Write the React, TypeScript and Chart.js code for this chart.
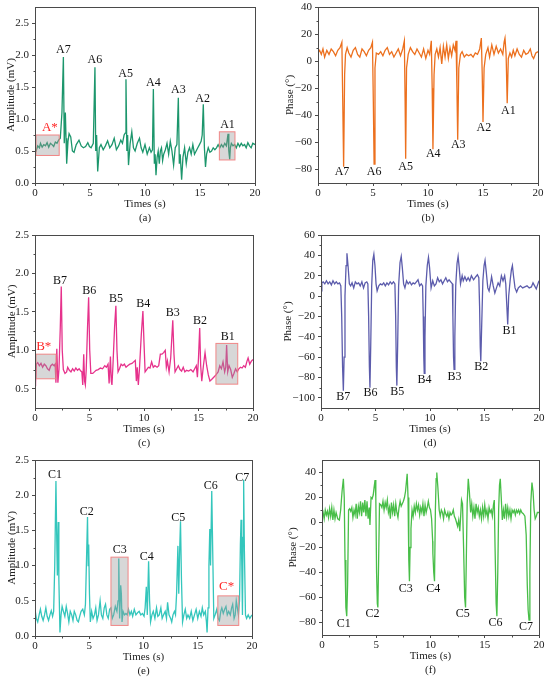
import React, { useEffect, useRef } from "react";
import { Chart, registerables } from "chart.js";

Chart.register(...registerables);

const FONT = "'Liberation Serif', 'Times New Roman', Times, serif";
Chart.defaults.font.family = FONT;
Chart.defaults.color = "#222";

// ---------- tick labels ----------
const xTicks = [0, 5, 10, 15, 20];
const ampTicksA = [0, 0.5, 1.0, 1.5, 2.0, 2.5];
const phaseTicksA = [-80, -60, -40, -20, 0, 20, 40];
const ampTicksB = [0.5, 1.0, 1.5, 2.0, 2.5];
const phaseTicksB = [-100, -80, -60, -40, -20, 0, 20, 40, 60];
const ampTicksC = [0, 0.5, 1.0, 1.5, 2.0, 2.5];
const phaseTicksC = [-80, -60, -40, -20, 0, 20, 40];

// ---------- series: [time (s), value] ----------
const ampA: [number, number][] = [
  [0, 0.52], [0.1, 0.5], [0.25, 0.58], [0.4, 0.55], [0.5, 0.62], [0.65, 0.56], [0.8, 0.6], [0.95, 0.58],
  [1.1, 0.63], [1.25, 0.56], [1.4, 0.62], [1.55, 0.6], [1.7, 0.57], [1.85, 0.64], [2.0, 0.62], [2.15, 0.67],
  [2.3, 0.7], [2.45, 1.1], [2.58, 1.97], [2.66, 0.62], [2.76, 1.1], [2.82, 0.7], [2.88, 0.3], [3.0, 0.65],
  [3.1, 0.77], [3.25, 0.72], [3.4, 0.5], [3.55, 0.48], [3.75, 0.6], [4.0, 0.67], [4.2, 0.58], [4.4, 0.55],
  [4.6, 0.57], [4.8, 0.63], [4.95, 0.57], [5.1, 0.55], [5.3, 0.62], [5.45, 1.81], [5.52, 0.5], [5.6, 0.75],
  [5.7, 0.18], [5.85, 0.55], [6.0, 0.6], [6.2, 0.52], [6.4, 0.58], [6.6, 0.66], [6.8, 0.55], [7.0, 0.6],
  [7.2, 0.7], [7.4, 0.52], [7.6, 0.58], [7.8, 0.67], [7.95, 0.62], [8.1, 0.75], [8.2, 0.78], [8.27, 1.62],
  [8.35, 0.5], [8.42, 0.75], [8.5, 0.28], [8.65, 0.62], [8.8, 0.8], [8.95, 0.55], [9.1, 0.5], [9.3, 0.62],
  [9.5, 0.7], [9.65, 0.55], [9.8, 0.48], [10.0, 0.6], [10.2, 0.45], [10.4, 0.55], [10.55, 0.48], [10.68, 0.52],
  [10.76, 1.47], [10.85, 0.3], [10.92, 0.45], [11.0, 0.12], [11.1, 0.4], [11.2, 0.5], [11.3, 0.3], [11.4, 0.5],
  [11.5, 0.55], [11.6, 0.35], [11.7, 0.45], [11.85, 0.52], [12.0, 0.62], [12.15, 0.45], [12.3, 0.65], [12.45, 0.5],
  [12.6, 0.28], [12.75, 0.55], [12.9, 0.6], [13.03, 1.33], [13.12, 0.3], [13.2, 0.45], [13.33, 0.05], [13.45, 0.4],
  [13.6, 0.55], [13.75, 0.3], [13.9, 0.48], [14.05, 0.55], [14.2, 0.45], [14.35, 0.6], [14.5, 0.45], [14.65, 0.5],
  [14.8, 0.55], [14.95, 0.6], [15.1, 0.65], [15.2, 0.75], [15.3, 1.23], [15.4, 0.55], [15.5, 0.25], [15.6, 0.45],
  [15.75, 0.55], [15.9, 0.48], [16.05, 0.5], [16.2, 0.55], [16.35, 0.52], [16.5, 0.55], [16.65, 0.6], [16.8, 0.55],
  [16.95, 0.6], [17.1, 0.56], [17.25, 0.62], [17.4, 0.58], [17.55, 0.77], [17.62, 0.5], [17.7, 0.37], [17.76, 0.55],
  [17.85, 0.62], [18.0, 0.58], [18.15, 0.6], [18.3, 0.55], [18.45, 0.62], [18.6, 0.57], [18.75, 0.62], [18.9, 0.58],
  [19.05, 0.6], [19.2, 0.55], [19.35, 0.63], [19.5, 0.58], [19.65, 0.55], [19.8, 0.62], [20.0, 0.6],
];

const phaseA: [number, number][] = [
  [0, 6], [0.15, 8], [0.3, 5], [0.45, 9], [0.6, 3], [0.8, 8], [1.0, 5], [1.2, 9], [1.4, 7], [1.6, 4], [1.8, 8],
  [2.0, 10], [2.17, 14], [2.25, -30], [2.33, -78], [2.42, -10], [2.5, 5], [2.65, 10], [2.8, 6], [3.0, 3], [3.2, 8],
  [3.4, 10], [3.6, 5], [3.8, 3], [4.0, 9], [4.2, 7], [4.4, 4], [4.6, 8], [4.8, 10], [4.95, 14], [5.03, -30],
  [5.1, -76], [5.18, -5], [5.3, 6], [5.5, 5], [5.7, 7], [5.9, 4], [6.1, 8], [6.3, 10], [6.5, 5], [6.7, 7],
  [6.9, 3], [7.1, 6], [7.3, 9], [7.5, 4], [7.7, 9], [7.85, 15], [7.92, -30], [7.97, -72], [8.05, -5], [8.2, 5],
  [8.4, 10], [8.6, 7], [8.8, 5], [9.0, 9], [9.2, 6], [9.4, 3], [9.6, 9], [9.8, 2], [10.0, 8], [10.15, 5],
  [10.3, 15], [10.38, -20], [10.45, -65], [10.55, -10], [10.65, 5], [10.8, 9], [10.95, 3], [11.1, 10], [11.25, -2],
  [11.4, 11], [11.55, 3], [11.7, 12], [11.85, 2], [12.0, 10], [12.15, 4], [12.3, 12], [12.45, 8], [12.55, 15],
  [12.63, -20], [12.7, -58], [12.8, -5], [12.95, 5], [13.1, 7], [13.3, 3], [13.5, 5], [13.7, 4], [13.9, 5],
  [14.1, 3], [14.3, 6], [14.5, 5], [14.7, 9], [14.85, 17], [14.93, -10], [15.0, -45], [15.1, -5], [15.25, 5],
  [15.45, 10], [15.6, 3], [15.8, 12], [16.0, 5], [16.2, 11], [16.4, 6], [16.6, 9], [16.8, 5], [16.92, 14],
  [17.0, 17], [17.1, 5], [17.2, -31], [17.3, 2], [17.45, 6], [17.6, 3], [17.75, 8], [17.9, 4], [18.1, 9],
  [18.3, 5], [18.5, 3], [18.7, 8], [18.9, 5], [19.1, 6], [19.3, 9], [19.45, 4], [19.6, 2], [19.8, 6], [20.0, 7],
];

const ampB: [number, number][] = [
  [0, 0.6], [0.05, 0.58], [0.12, 0.82], [0.25, 0.84], [0.4, 0.8], [0.55, 0.83], [0.7, 0.78], [0.85, 0.82],
  [1.0, 0.8], [1.15, 0.76], [1.3, 0.74], [1.45, 0.8], [1.6, 0.82], [1.75, 0.8], [1.85, 0.82], [1.92, 0.58],
  [2.0, 1.02], [2.1, 0.58], [2.2, 0.75], [2.32, 1.3], [2.41, 1.83], [2.5, 1.0], [2.6, 0.75], [2.75, 0.7],
  [2.9, 0.72], [3.0, 0.78], [3.15, 0.74], [3.3, 0.72], [3.45, 0.76], [3.6, 0.73], [3.75, 0.77], [3.9, 0.74],
  [4.05, 0.76], [4.2, 0.73], [4.3, 0.72], [4.38, 0.55], [4.47, 0.95], [4.55, 0.6], [4.62, 0.55], [4.7, 0.75],
  [4.82, 1.3], [4.92, 1.69], [5.02, 1.0], [5.12, 0.7], [5.3, 0.7], [5.45, 0.72], [5.6, 0.74], [5.8, 0.75],
  [6.0, 0.77], [6.2, 0.76], [6.4, 0.8], [6.55, 0.78], [6.7, 0.82], [6.8, 0.57], [6.92, 0.92], [7.0, 0.6],
  [7.06, 0.55], [7.15, 0.8], [7.3, 1.3], [7.42, 1.58], [7.52, 1.0], [7.62, 0.72], [7.75, 0.76], [7.9, 0.82],
  [8.05, 0.8], [8.2, 0.82], [8.35, 0.78], [8.5, 0.8], [8.7, 0.82], [8.9, 0.83], [9.05, 0.85], [9.2, 0.87],
  [9.3, 0.6], [9.38, 0.78], [9.48, 0.55], [9.58, 0.75], [9.75, 1.2], [9.9, 1.51], [10.0, 1.1], [10.1, 0.72],
  [10.25, 0.75], [10.4, 0.78], [10.55, 0.77], [10.7, 0.85], [10.85, 0.78], [11.0, 0.8], [11.2, 0.78], [11.35, 0.8],
  [11.5, 0.95], [11.65, 0.95], [11.8, 0.97], [11.95, 1.0], [12.05, 0.78], [12.15, 0.86], [12.3, 0.72], [12.45, 0.9],
  [12.64, 1.39], [12.75, 0.95], [12.85, 0.72], [13.0, 0.76], [13.15, 0.8], [13.3, 0.75], [13.45, 0.73], [13.6, 0.78],
  [13.75, 0.72], [13.9, 0.74], [14.1, 0.73], [14.3, 0.75], [14.5, 0.72], [14.65, 0.76], [14.8, 0.8], [14.9, 0.65],
  [15.0, 0.9], [15.11, 1.29], [15.2, 0.8], [15.3, 0.6], [15.45, 0.8], [15.6, 0.97], [15.75, 0.8], [15.9, 0.68],
  [16.05, 0.6], [16.2, 0.62], [16.4, 0.65], [16.6, 0.68], [16.8, 0.72], [16.95, 0.8], [17.1, 0.76], [17.25, 0.85],
  [17.4, 0.72], [17.5, 0.78], [17.58, 1.07], [17.68, 0.72], [17.8, 0.8], [17.95, 0.75], [18.1, 0.65], [18.25, 0.7],
  [18.4, 0.76], [18.55, 0.72], [18.7, 0.76], [18.85, 0.78], [19.0, 0.77], [19.15, 0.8], [19.3, 0.78], [19.45, 0.86],
  [19.55, 0.9], [19.7, 0.82], [19.85, 0.86], [20.0, 0.88],
];

const phaseB: [number, number][] = [
  [0, 5], [0.08, 13], [0.2, 14], [0.35, 12], [0.5, 15], [0.65, 12], [0.8, 14], [0.95, 11], [1.1, 15], [1.25, 12],
  [1.4, 14], [1.55, 12], [1.7, 13], [1.82, 10], [1.9, -20], [1.98, -70], [2.05, -93], [2.12, -60], [2.2, 0],
  [2.3, 30], [2.38, 42], [2.48, 30], [2.6, 12], [2.72, 10], [2.85, 13], [3.0, 8], [3.15, 14], [3.3, 12], [3.45, 13],
  [3.6, 10], [3.75, 14], [3.9, 8], [4.05, 13], [4.2, 14], [4.3, 12], [4.37, -20], [4.44, -70], [4.49, -90],
  [4.56, -50], [4.65, 10], [4.75, 35], [4.85, 41], [4.95, 30], [5.05, 12], [5.15, 5], [5.3, 10], [5.45, 12],
  [5.6, 11], [5.75, 13], [5.9, 10], [6.05, 13], [6.2, 11], [6.35, 14], [6.5, 12], [6.65, 14], [6.78, 12],
  [6.85, -20], [6.91, -70], [6.96, -88], [7.03, -50], [7.12, 10], [7.25, 33], [7.36, 39], [7.46, 28], [7.58, 12],
  [7.7, 8], [7.85, 15], [8.0, 12], [8.15, 14], [8.3, 11], [8.45, 13], [8.6, 12], [8.75, 14], [8.9, 16], [9.05, 10],
  [9.2, 12], [9.32, 10], [9.38, -20], [9.43, -60], [9.47, -76], [9.54, -40], [9.62, 10], [9.75, 30], [9.86, 38],
  [9.96, 28], [10.1, 8], [10.25, 15], [10.4, 10], [10.55, 12], [10.7, 18], [10.85, 14], [11.0, 16], [11.15, 12],
  [11.3, 15], [11.45, 18], [11.6, 14], [11.75, 16], [11.9, 14], [12.05, 12], [12.1, -20], [12.16, -60], [12.21, -72],
  [12.28, -40], [12.36, 10], [12.48, 32], [12.58, 39], [12.68, 28], [12.8, 12], [12.95, 20], [13.05, 15], [13.2, 19],
  [13.35, 15], [13.5, 18], [13.65, 15], [13.8, 20], [14.0, 16], [14.2, 19], [14.35, 21], [14.48, 18], [14.55, -10],
  [14.61, -50], [14.66, -64], [14.74, -30], [14.85, 15], [14.96, 30], [15.05, 35], [15.15, 25], [15.3, 8],
  [15.42, 5], [15.55, 12], [15.65, 19], [15.8, 10], [15.95, 3], [16.1, 8], [16.25, 13], [16.4, 10], [16.55, 20],
  [16.7, 15], [16.85, 20], [16.95, 12], [17.05, -10], [17.13, -28], [17.22, 0], [17.35, 15], [17.47, 26],
  [17.56, 30], [17.66, 20], [17.8, 8], [17.95, 4], [18.1, 8], [18.3, 10], [18.5, 8], [18.7, 9], [18.9, 10],
  [19.1, 8], [19.3, 9], [19.45, 13], [19.6, 10], [19.75, 7], [19.9, 12], [20.0, 15],
];

const ampC: [number, number][] = [
  [0, 0.38], [0.12, 0.25], [0.25, 0.2], [0.38, 0.3], [0.5, 0.38], [0.62, 0.28], [0.75, 0.22], [0.88, 0.3],
  [1.0, 0.4], [1.12, 0.28], [1.25, 0.22], [1.38, 0.3], [1.5, 0.36], [1.62, 0.28], [1.72, 0.35], [1.82, 1.0],
  [1.93, 2.2], [2.02, 1.2], [2.06, 0.86], [2.14, 1.62], [2.2, 0.8], [2.3, 0.05], [2.4, 0.3], [2.5, 0.42],
  [2.62, 0.35], [2.75, 0.28], [2.88, 0.42], [3.0, 0.32], [3.12, 0.2], [3.25, 0.35], [3.38, 0.3], [3.5, 0.22],
  [3.62, 0.35], [3.75, 0.3], [3.88, 0.22], [4.0, 0.2], [4.12, 0.28], [4.25, 0.35], [4.4, 0.38], [4.55, 0.3],
  [4.65, 0.45], [4.75, 1.1], [4.84, 1.69], [4.9, 1.0], [4.95, 1.3], [5.02, 0.6], [5.1, 0.2], [5.22, 0.35],
  [5.35, 0.25], [5.48, 0.3], [5.6, 0.4], [5.72, 0.22], [5.85, 0.3], [6.0, 0.5], [6.12, 0.3], [6.25, 0.25],
  [6.38, 0.4], [6.5, 0.45], [6.62, 0.3], [6.75, 0.25], [6.88, 0.38], [7.0, 0.4], [7.12, 0.25], [7.25, 0.3],
  [7.4, 0.42], [7.55, 0.35], [7.65, 0.5], [7.72, 1.1], [7.8, 0.25], [7.9, 0.72], [7.96, 0.6], [8.02, 0.2],
  [8.12, 0.35], [8.25, 0.3], [8.38, 0.32], [8.5, 0.3], [8.62, 0.38], [8.75, 0.3], [8.88, 0.35], [9.0, 0.28],
  [9.15, 0.38], [9.3, 0.3], [9.45, 0.33], [9.6, 0.35], [9.75, 0.3], [9.9, 0.32], [10.05, 0.28], [10.15, 0.4],
  [10.26, 0.7], [10.35, 0.3], [10.47, 1.06], [10.56, 0.5], [10.65, 0.2], [10.78, 0.3], [10.9, 0.35], [11.05, 0.25],
  [11.2, 0.4], [11.32, 0.28], [11.45, 0.3], [11.6, 0.4], [11.72, 0.25], [11.85, 0.3], [12.0, 0.35], [12.12, 0.25],
  [12.22, 0.48], [12.35, 0.3], [12.5, 0.25], [12.6, 0.2], [12.72, 0.3], [12.85, 0.35], [12.95, 0.3], [13.05, 0.6],
  [13.17, 1.28], [13.25, 0.6], [13.33, 1.2], [13.41, 1.63], [13.5, 0.8], [13.6, 0.2], [13.72, 0.3], [13.85, 0.38],
  [13.98, 0.25], [14.1, 0.3], [14.25, 0.25], [14.4, 0.35], [14.55, 0.22], [14.7, 0.3], [14.85, 0.38], [15.0, 0.25],
  [15.15, 0.35], [15.3, 0.28], [15.42, 0.4], [15.55, 0.3], [15.7, 0.35], [15.8, 0.2], [15.86, 0.05], [15.95, 0.4],
  [16.03, 1.0], [16.11, 1.52], [16.18, 1.0], [16.29, 2.06], [16.38, 1.2], [16.48, 0.25], [16.6, 0.3], [16.75, 0.38],
  [16.88, 0.25], [17.0, 0.22], [17.12, 0.35], [17.22, 0.4], [17.35, 0.32], [17.48, 0.38], [17.6, 0.42], [17.72, 0.3],
  [17.85, 0.35], [18.0, 0.3], [18.12, 0.4], [18.22, 0.45], [18.35, 0.25], [18.45, 0.3], [18.55, 0.5], [18.65, 0.4],
  [18.75, 0.3], [18.85, 0.5], [18.93, 1.3], [18.99, 1.65], [19.06, 1.0], [19.12, 0.3], [19.18, 1.4], [19.23, 2.22],
  [19.3, 1.2], [19.4, 0.3], [19.5, 0.25], [19.65, 0.3], [19.8, 0.25], [20.0, 0.3],
];

const phaseC: [number, number][] = [
  [0, 5], [0.1, 8], [0.2, 3], [0.3, 10], [0.4, 6], [0.5, 9], [0.6, 4], [0.7, 11], [0.8, 5], [0.9, 12], [1.0, 2],
  [1.1, 10], [1.2, 3], [1.3, 8], [1.45, 3], [1.6, 2], [1.72, 10], [1.85, 25], [1.97, 35], [2.05, 20], [2.12, -30],
  [2.2, -68], [2.28, -75], [2.36, -50], [2.45, 10], [2.55, 11], [2.65, 9], [2.75, 12], [2.85, 4], [2.95, 10],
  [3.05, 6], [3.15, 15], [3.25, 3], [3.35, 13], [3.45, 8], [3.55, 17], [3.65, 5], [3.75, 16], [3.85, 8], [3.95, 18],
  [4.05, 5], [4.15, 17], [4.25, 3], [4.35, 12], [4.42, -2], [4.52, 20], [4.62, 19], [4.72, 22], [4.8, 28],
  [4.89, 34], [4.96, 20], [5.03, -40], [5.1, -65], [5.15, -68], [5.22, -30], [5.3, 15], [5.42, 14], [5.52, 12],
  [5.62, 17], [5.72, 10], [5.82, 16], [5.92, 12], [6.02, 18], [6.12, 8], [6.22, 12], [6.3, 3], [6.4, 16], [6.5, 8],
  [6.6, 14], [6.7, 5], [6.8, 15], [6.9, 8], [7.0, 4], [7.1, 12], [7.2, 17], [7.3, 13], [7.4, 15], [7.5, 17],
  [7.6, 20], [7.7, 25], [7.85, 39], [7.93, 20], [8.0, -30], [8.06, -47], [8.12, -20], [8.2, -5], [8.3, 10],
  [8.4, 5], [8.5, 13], [8.6, 8], [8.7, 15], [8.8, 10], [8.9, 14], [9.0, 6], [9.1, 12], [9.2, 8], [9.3, 15],
  [9.4, 5], [9.5, 14], [9.6, 8], [9.7, 12], [9.8, 17], [9.9, 12], [10.0, 10], [10.1, 3], [10.2, -15],
  [10.22, -25], [10.3, -40], [10.37, -47], [10.45, 10], [10.52, 35], [10.58, 40], [10.68, 28], [10.8, 10],
  [10.9, 5], [11.0, 10], [11.1, 8], [11.2, 3], [11.3, 10], [11.4, 7], [11.5, 5], [11.6, 8], [11.7, 3], [11.8, 8],
  [11.9, 6], [12.0, 7], [12.1, 10], [12.2, 5], [12.3, 3], [12.4, 0], [12.5, -3], [12.6, 2], [12.7, -7], [12.78, 5],
  [12.86, 18], [12.95, 15], [13.05, -20], [13.15, -60], [13.23, -68], [13.3, -30], [13.38, 15], [13.48, 35],
  [13.58, 25], [13.7, 8], [13.8, 15], [13.9, 5], [14.0, 12], [14.1, 3], [14.2, 15], [14.3, 8], [14.4, 12],
  [14.5, 5], [14.6, 10], [14.7, 3], [14.8, 12], [14.9, 5], [15.0, 14], [15.1, 6], [15.2, 10], [15.3, 3],
  [15.4, 12], [15.5, 8], [15.6, 10], [15.7, 5], [15.8, 14], [15.88, 18], [15.95, -20], [16.05, -65], [16.12, -75],
  [16.2, -40], [16.28, 10], [16.36, 30], [16.43, 35], [16.52, 20], [16.62, 2], [16.72, 10], [16.82, 3],
  [16.92, 15], [17.02, 5], [17.12, 12], [17.22, 5], [17.32, 10], [17.42, 3], [17.52, 10], [17.62, 8], [17.72, 10],
  [17.82, 6], [17.92, 10], [18.02, 8], [18.12, 10], [18.22, 7], [18.32, 10], [18.42, 8], [18.55, 7], [18.7, 5],
  [18.82, -10], [18.92, -50], [19.0, -70], [19.08, -78], [19.16, -40], [19.24, 15], [19.35, 32], [19.45, 25],
  [19.55, 10], [19.65, 3], [19.75, 5], [19.85, 8], [20.0, 8],
];

// ---------- annotations: [text, time, value] and boxes [t0, t1, v0, v1] ----------
const labelsAmpA: [string, number, number][] = [
  ["A7", 2.58, 2.08], ["A6", 5.45, 1.93], ["A5", 8.24, 1.71], ["A4", 10.76, 1.56],
  ["A3", 13.03, 1.46], ["A2", 15.24, 1.31], ["A1", 17.5, 0.91],
];
const labelsPhaseA: [string, number, number][] = [
  ["A7", 2.18, -82], ["A6", 5.1, -81.5], ["A5", 7.97, -78], ["A4", 10.48, -68.5],
  ["A3", 12.75, -62], ["A2", 15.08, -49], ["A1", 17.3, -37],
];
const labelsAmpB: [string, number, number][] = [
  ["B7", 2.29, 1.9], ["B6", 4.98, 1.77], ["B5", 7.43, 1.67], ["B4", 9.94, 1.6],
  ["B3", 12.63, 1.49], ["B2", 15.14, 1.39], ["B1", 17.68, 1.17],
];
const labelsPhaseB: [string, number, number][] = [
  ["B7", 2.05, -99], ["B6", 4.53, -95], ["B5", 7.0, -93.7], ["B4", 9.5, -82.2],
  ["B3", 12.24, -79.5], ["B2", 14.7, -69.7], ["B1", 17.3, -34],
];
const labelsAmpC: [string, number, number][] = [
  ["C1", 1.84, 2.29], ["C2", 4.76, 1.76], ["C3", 7.8, 1.23], ["C4", 10.3, 1.12],
  ["C5", 13.2, 1.68], ["C6", 16.2, 2.13], ["C7", 19.1, 2.25],
];
const labelsPhaseC: [string, number, number][] = [
  ["C1", 2.0, -81], ["C2", 4.65, -73], ["C3", 7.73, -53.3], ["C4", 10.25, -53.3],
  ["C5", 12.97, -73.3], ["C6", 16.0, -80], ["C7", 18.8, -83.7],
];
const boxesA: [number, number, number, number][] = [[0.09, 2.2, 0.43, 0.75], [16.76, 18.18, 0.36, 0.8]];
const boxesB: [number, number, number, number][] = [[0.09, 1.93, 0.63, 0.95], [16.6, 18.6, 0.56, 1.09]];
const boxesC: [number, number, number, number][] = [[7.0, 8.58, 0.15, 1.12], [16.85, 18.78, 0.15, 0.57]];
const starA: [string, number, number] = ["A*", 1.35, 0.86];
const starB: [string, number, number] = ["B*", 0.8, 1.05];
const starC: [string, number, number] = ["C*", 17.66, 0.7];

type Area = { l: number; r: number; t: number; b: number };
type Panel = {
  key: string;
  cellLeft: number;
  area: Area;
  color: string;
  data: [number, number][];
  yMin: number;
  yMax: number;
  yTicks: number[];
  yTitle: string;
  yTitleX: number;
  amp: boolean;
  caption: string;
  labels: [string, number, number][];
  boxes: [number, number, number, number][];
  star: [string, number, number] | null;
};

const panels: Panel[] = [
  { key: "a", cellLeft: 0, area: { l: 35, r: 255, t: 7, b: 183 }, color: "rgb(28,150,108)", data: ampA,
    yMin: 0, yMax: 2.75, yTicks: ampTicksA, yTitle: "Amplitude (mV)", yTitleX: 10.7, amp: true, caption: "(a)",
    labels: labelsAmpA, boxes: boxesA, star: starA },
  { key: "b", cellLeft: 275, area: { l: 318, r: 538, t: 7, b: 183 }, color: "rgb(236,112,30)", data: phaseA,
    yMin: -90, yMax: 40, yTicks: phaseTicksA, yTitle: "Phase (°)", yTitleX: 14.7, amp: false, caption: "(b)",
    labels: labelsPhaseA, boxes: [], star: null },
  { key: "c", cellLeft: 0, area: { l: 35, r: 253, t: 235, b: 408 }, color: "rgb(230,50,140)", data: ampB,
    yMin: 0.25, yMax: 2.5, yTicks: ampTicksB, yTitle: "Amplitude (mV)", yTitleX: 11.7, amp: true, caption: "(c)",
    labels: labelsAmpB, boxes: boxesB, star: starB },
  { key: "d", cellLeft: 275, area: { l: 321, r: 539, t: 235, b: 408 }, color: "rgb(92,92,172)", data: phaseB,
    yMin: -110, yMax: 60, yTicks: phaseTicksB, yTitle: "Phase (°)", yTitleX: 12.7, amp: false, caption: "(d)",
    labels: labelsPhaseB, boxes: [], star: null },
  { key: "e", cellLeft: 0, area: { l: 35, r: 252, t: 460, b: 636 }, color: "rgb(52,198,188)", data: ampC,
    yMin: 0, yMax: 2.5, yTicks: ampTicksC, yTitle: "Amplitude (mV)", yTitleX: 11.7, amp: true, caption: "(e)",
    labels: labelsAmpC, boxes: boxesC, star: starC },
  { key: "f", cellLeft: 275, area: { l: 322, r: 539, t: 460, b: 635 }, color: "rgb(72,190,72)", data: phaseC,
    yMin: -90, yMax: 50, yTicks: phaseTicksC, yTitle: "Phase (°)", yTitleX: 18.3, amp: false, caption: "(f)",
    labels: labelsPhaseC, boxes: [], star: null },
];

const AXIS = "#4a4a4a";
const TOP_PAD = 12;
const X_AXIS_H = 45;

function minorValues(majors: number[], min: number, max: number): number[] {
  const step = majors[1] - majors[0];
  const out: number[] = [];
  const cands = [majors[0] - step / 2, ...majors.map((v) => v + step / 2)];
  for (const v of cands) if (v > min + 1e-9 && v < max - 1e-9) out.push(v);
  return out;
}

function decorPlugin(p: Panel) {
  return {
    id: "decor_" + p.key,
    afterDatasetsDraw(chart: any) {
      const { ctx, scales } = chart;
      const x = scales.x, y = scales.y;
      ctx.save();
      for (const [t0, t1, v0, v1] of p.boxes) {
        const px0 = x.getPixelForValue(t0), px1 = x.getPixelForValue(t1);
        const py0 = y.getPixelForValue(v0), py1 = y.getPixelForValue(v1);
        ctx.fillStyle = "rgba(150,150,150,0.38)";
        ctx.fillRect(px0, py1, px1 - px0, py0 - py1);
        ctx.strokeStyle = "rgba(240,130,130,0.95)";
        ctx.lineWidth = 1;
        ctx.strokeRect(px0, py1, px1 - px0, py0 - py1);
      }
      ctx.font = `12px ${FONT}`;
      ctx.textAlign = "center";
      ctx.textBaseline = "middle";
      ctx.fillStyle = "#111";
      for (const [txt, t, v] of p.labels) {
        ctx.fillText(txt, x.getPixelForValue(t), y.getPixelForValue(v));
      }
      if (p.star) {
        ctx.font = `13px ${FONT}`;
        ctx.fillStyle = "#ff2626";
        ctx.fillText(p.star[0], x.getPixelForValue(p.star[1]), y.getPixelForValue(p.star[2]));
      }
      ctx.restore();
    },
    afterDraw(chart: any) {
      const { ctx, chartArea: a, scales } = chart;
      const x = scales.x, y = scales.y;
      ctx.save();
      ctx.strokeStyle = AXIS;
      ctx.lineWidth = 1;
      const L = Math.round(a.left) + 0.5, R = Math.round(a.right) + 0.5;
      const T = Math.round(a.top) + 0.5, B = Math.round(a.bottom) + 0.5;
      ctx.strokeRect(L, T, R - L, B - T);
      ctx.beginPath();
      for (const v of minorValues(xTicks, 0, 20)) {
        const px = Math.round(x.getPixelForValue(v)) + 0.5;
        ctx.moveTo(px, B);
        ctx.lineTo(px, B + 2);
      }
      for (const v of minorValues(p.yTicks, p.yMin, p.yMax)) {
        const py = Math.round(y.getPixelForValue(v)) + 0.5;
        ctx.moveTo(L, py);
        ctx.lineTo(L - 2, py);
      }
      ctx.stroke();
      ctx.font = `11px ${FONT}`;
      ctx.fillStyle = "#222";
      ctx.textAlign = "center";
      ctx.textBaseline = "middle";
      ctx.fillText(p.caption, (a.left + a.right) / 2, a.bottom + 35.5);
      ctx.restore();
    },
  };
}

function PanelChart({ p }: { p: Panel }) {
  const ref = useRef<HTMLCanvasElement>(null);
  const left = p.cellLeft;
  const top = p.area.t - TOP_PAD;
  const W = Math.ceil(p.area.r - left + 12);
  const H = Math.ceil(p.area.b - p.area.t + TOP_PAD + X_AXIS_H);

  useEffect(() => {
    if (!ref.current) return;
    const tickFont = { size: 11, family: FONT };
    const chart = new Chart(ref.current, {
      type: "line",
      data: {
        datasets: [
          {
            data: p.data.map(([t, v]) => ({ x: t, y: v })),
            borderColor: p.color,
            borderWidth: 1.3,
            pointRadius: 0,
            tension: 0,
            fill: false,
          },
        ],
      },
      options: {
        animation: false,
        responsive: false,
        maintainAspectRatio: false,
        events: [],
        layout: { padding: { left: 0, top: TOP_PAD, right: W - (p.area.r - left), bottom: 0 } },
        plugins: { legend: { display: false }, tooltip: { enabled: false }, title: { display: false } },
        scales: {
          x: {
            type: "linear",
            min: 0,
            max: 20,
            afterBuildTicks: (s: any) => { s.ticks = xTicks.map((v) => ({ value: v })); },
            afterFit: (s: any) => { s.height = X_AXIS_H; },
            grid: { display: true, drawOnChartArea: false, drawTicks: true, tickLength: 3, color: AXIS },
            border: { display: true, color: AXIS, width: 1 },
            ticks: { font: tickFont, color: "#222", padding: 1, maxRotation: 0, autoSkip: false,
              callback: (v: any) => String(v) },
            title: { display: true, text: "Times (s)", font: { size: 11, family: FONT }, color: "#222",
              padding: { top: 0, bottom: 24 - 6.6 } },
          },
          y: {
            type: "linear",
            min: p.yMin,
            max: p.yMax,
            afterBuildTicks: (s: any) => { s.ticks = p.yTicks.map((v) => ({ value: v })); },
            afterFit: (s: any) => { s.width = p.area.l - left; },
            grid: { display: true, drawOnChartArea: false, drawTicks: true, tickLength: 3, color: AXIS },
            border: { display: true, color: AXIS, width: 1 },
            ticks: { font: tickFont, color: "#222", padding: 3, autoSkip: false,
              callback: (v: any) => {
                const n = Number(v);
                if (p.amp) return n.toFixed(1);
                return n < 0 ? "\u2212" + Math.abs(n) : String(n);
              } },
            title: { display: true, text: p.yTitle, font: { size: 11, family: FONT }, color: "#222",
              padding: { top: p.yTitleX - 6.6, bottom: 0 } },
          },
        },
      },
      plugins: [decorPlugin(p)],
    } as any);
    return () => chart.destroy();
  }, []);

  return (
    <canvas
      ref={ref}
      width={W}
      height={H}
      style={{ position: "absolute", left, top, width: W, height: H }}
    />
  );
}

export default function App() {
  return (
    <div style={{ position: "fixed", left: 0, top: 0, width: 550, height: 683, background: "#fff", overflow: "hidden" }}>
      {panels.map((p) => (
        <PanelChart key={p.key} p={p} />
      ))}
    </div>
  );
}
